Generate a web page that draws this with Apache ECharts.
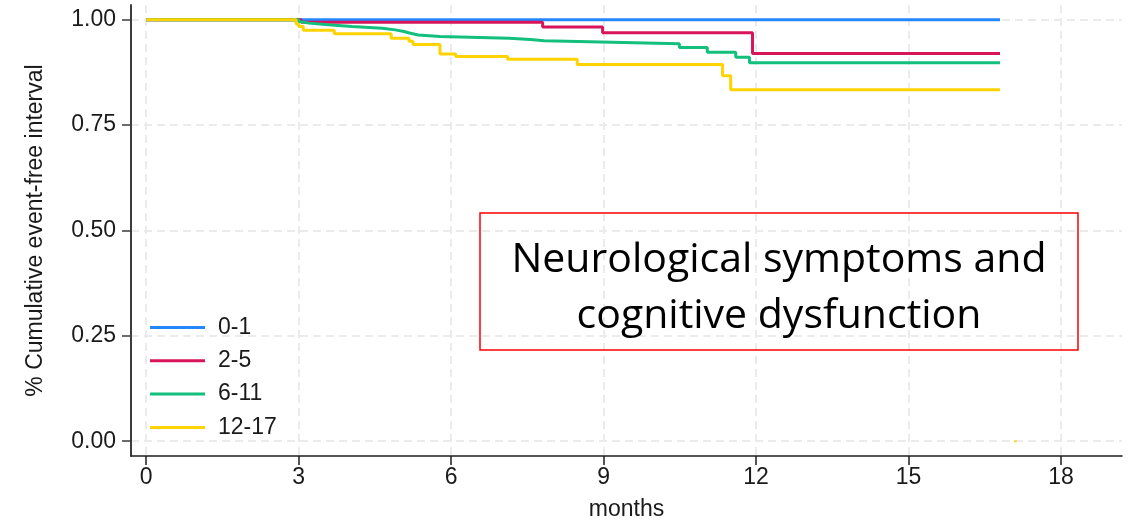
<!DOCTYPE html>
<html>
<head>
<meta charset="utf-8">
<script src="https://cdn.jsdelivr.net/npm/echarts@6/dist/echarts.min.js"></script>
<style>
  html, body { margin: 0; padding: 0; background: #ffffff; }
  #chart { width: 1133px; height: 526px; }
</style>
</head>
<body>
<div id="chart"></div>
<script>
// Age groups (years) and their line colours
const groups = ['0-1', '2-5', '6-11', '12-17'];
const groupColors = ['#2487ff', '#d8155a', '#12bf7c', '#ffd300'];

// Kaplan-Meier event-free estimates: [months, survival]
const age0to1 = [[0, 1], [16.8, 1]];
const age2to5 = [
  [0, 1], [3.05, 0.994], [7.80, 0.983], [8.98, 0.969], [11.93, 0.920], [16.8, 0.920]
];
const age6to11 = [
  [0, 1], [3.0, 0.995], [3.05, 0.992], [3.2, 0.988], [3.58, 0.984], [4.05, 0.980],
  [4.64, 0.976], [4.90, 0.972], [5.07, 0.968], [5.20, 0.964], [5.35, 0.960],
  [5.78, 0.956], [7.14, 0.953], [7.56, 0.950], [7.83, 0.947], [8.94, 0.943],
  [10.49, 0.934], [11.04, 0.923], [11.60, 0.911], [11.87, 0.898], [16.8, 0.898]
];
const age12to17 = [
  [0, 1], [2.95, 0.990], [3.0, 0.984], [3.09, 0.975], [3.70, 0.967], [4.82, 0.956],
  [5.17, 0.949], [5.25, 0.941], [5.78, 0.919], [6.09, 0.913], [7.11, 0.906],
  [8.48, 0.894], [11.34, 0.867], [11.50, 0.834], [16.8, 0.834]
];
// stray censoring tick of the 12-17 group
const age12to17Stray = [[17.1, 0]];

const xTicks = [0, 3, 6, 9, 12, 15, 18];
const yTicks = [0, 0.25, 0.5, 0.75, 1];

const seriesData = [age0to1, age2to5, age6to11, age12to17];

const axisFont = 'Liberation Sans, Arial, sans-serif';
const gridLine = { show: true, lineStyle: { color: '#ebebeb', width: 2, type: [8, 5] } };

const chart = echarts.init(document.getElementById('chart'), null, { renderer: 'canvas' });

const series = seriesData.map((d, i) => ({
  name: groups[i],
  type: 'line',
  step: 'end',
  data: d,
  symbol: 'none',
  color: groupColors[i],
  lineStyle: { width: 3, color: groupColors[i] },
  animation: false,
  z: 3 + i
}));
series.push({
  name: 'stray',
  type: 'scatter',
  data: age12to17Stray,
  symbol: 'rect',
  symbolSize: [3, 2],
  itemStyle: { color: groupColors[3] },
  animation: false,
  silent: true
});

chart.setOption({
  backgroundColor: '#ffffff',
  animation: false,
  grid: { left: 131, right: 11, top: 5, bottom: 70, containLabel: false },
  xAxis: {
    type: 'value',
    min: -0.3,
    max: 19.2,
    name: 'months',
    nameLocation: 'middle',
    nameGap: 42,
    nameTextStyle: { fontFamily: axisFont, fontSize: 23, color: '#1a1a1a' },
    axisLine: { show: true, onZero: false, lineStyle: { color: '#1e1e1e', width: 1.5 } },
    axisTick: { show: true, length: 9, lineStyle: { color: '#1e1e1e', width: 1.5 }, customValues: xTicks },
    axisLabel: { fontFamily: axisFont, fontSize: 23, color: '#1a1a1a', margin: 10, customValues: xTicks },
    splitLine: gridLine
  },
  yAxis: {
    type: 'value',
    min: -0.035,
    max: 1.035,
    name: '% Cumulative event-free interval',
    nameLocation: 'middle',
    nameGap: 84,
    nameTextStyle: { fontFamily: axisFont, fontSize: 23, color: '#1a1a1a' },
    axisLine: { show: true, onZero: false, lineStyle: { color: '#3c3c3c', width: 2 } },
    axisTick: { show: true, length: 9, lineStyle: { color: '#3c3c3c', width: 1.5 }, customValues: yTicks },
    axisLabel: {
      fontFamily: axisFont, fontSize: 23, color: '#1a1a1a', margin: 15,
      customValues: yTicks,
      formatter: v => v.toFixed(2)
    },
    splitLine: gridLine
  },
  legend: {
    data: groups,
    orient: 'vertical',
    left: 150,
    top: 316,
    padding: 0,
    itemWidth: 55,
    itemHeight: 14,
    itemGap: 10.3,
    icon: 'path://M0,6 L55,6 L55,9 L0,9 Z',
    textStyle: { fontFamily: axisFont, fontSize: 23, color: '#1a1a1a', lineHeight: 23, padding: [0, 0, 0, 8] },
    selectedMode: false
  },
  graphic: [
    {
      type: 'rect',
      shape: { x: 480, y: 213, width: 598, height: 137 },
      style: { fill: 'none', stroke: '#ff0000', lineWidth: 1.5 },
      z: 10
    },
    {
      type: 'text',
      x: 779,
      y: 288,
      style: {
        text: 'Neurological symptoms and\ncognitive dysfunction',
        fontFamily: 'Open Sans, sans-serif',
        fontSize: 41,
        lineHeight: 56,
        fill: '#000000',
        align: 'center',
        verticalAlign: 'middle'
      },
      z: 10
    }
  ],
  series: series
});
</script>
</body>
</html>
